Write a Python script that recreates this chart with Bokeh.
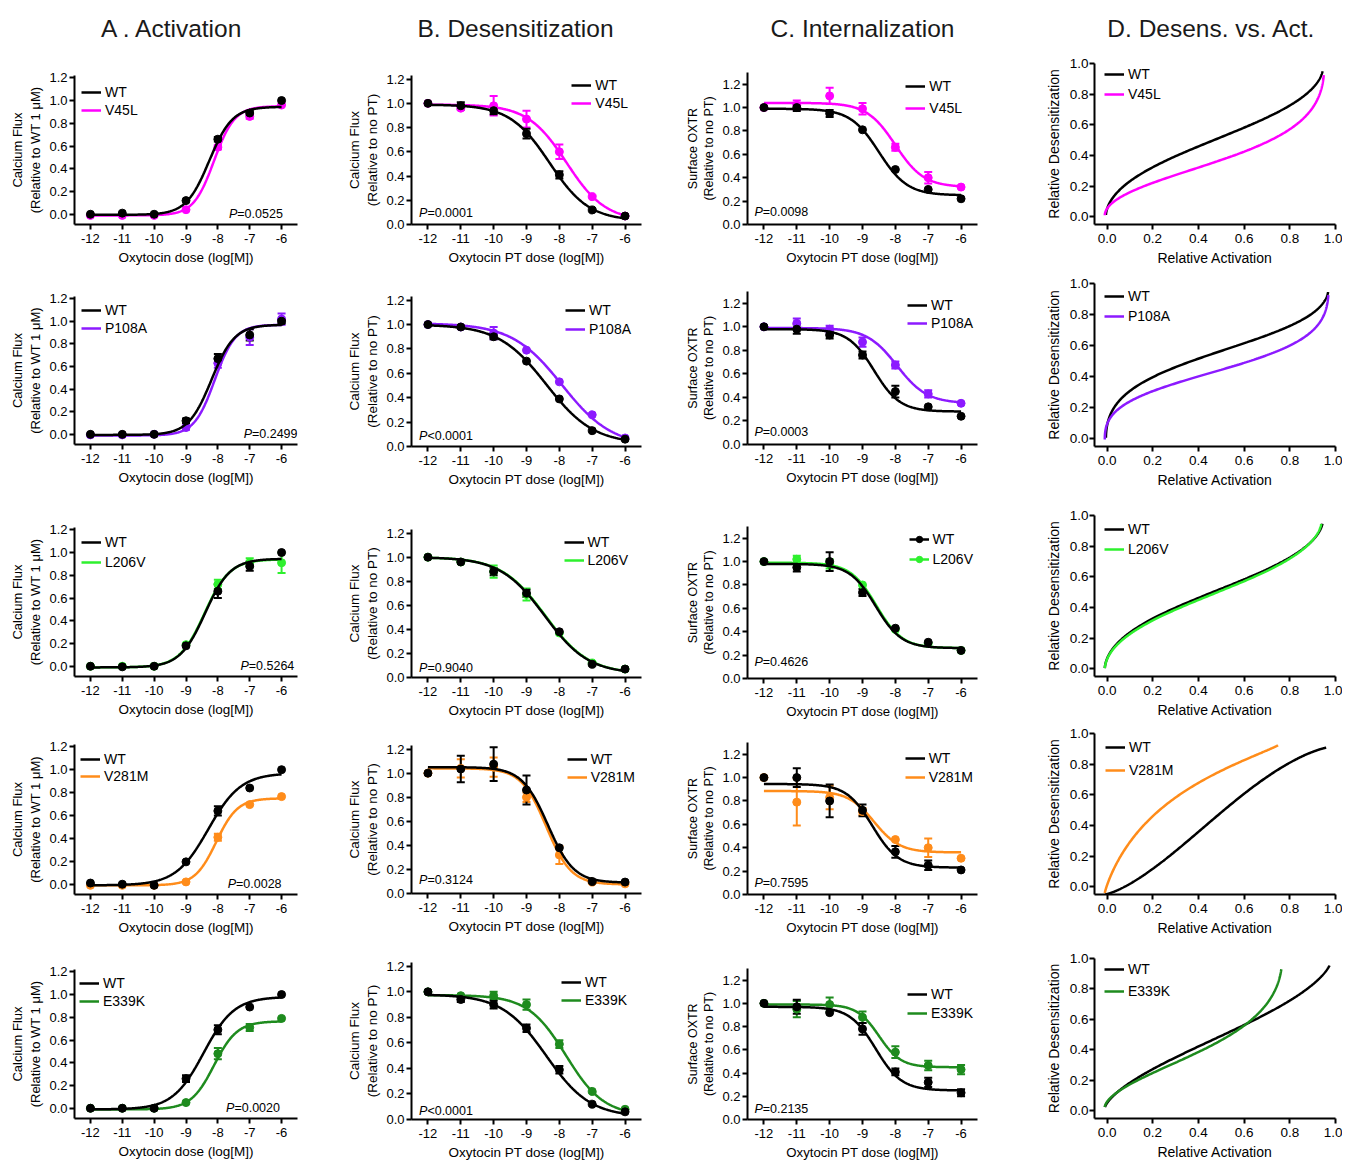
import numpy as np
from bokeh.plotting import figure
from bokeh.models import (Range1d, FixedTicker, PrintfTickFormatter, Legend, LegendItem,
                          Label, Whisker, TeeHead, ColumnDataSource)
from bokeh.layouts import column, row
from bokeh.embed import file_html
from bokeh.resources import INLINE

FONT = "Liberation Sans"

# ---------------------------------------------------------------- data
doses = [-12, -11, -10, -9, -8, -7, -6]
mutants = ["V45L", "P108A", "L206V", "V281M", "E339K"]
mutant_colors = ["#FF00FF", "#8C1AFF", "#2EF02E", "#FF8C1A", "#1E8B1E"]
wt_color = "#000000"
column_titles = ["A . Activation", "B. Desensitization", "C. Internalization", "D. Desens. vs. Act."]
flux_ticks = [0.0, 0.2, 0.4, 0.6, 0.8, 1.0, 1.2]
rel_ticks = [0.0, 0.2, 0.4, 0.6, 0.8, 1.0]

act_p_values = ["=0.0525", "=0.2499", "=0.5264", "=0.0028", "=0.0020"]
des_p_values = ["=0.0001", "<0.0001", "=0.9040", "=0.3124", "<0.0001"]
int_p_values = ["=0.0098", "=0.0003", "=0.4626", "=0.7595", "=0.2135"]

# A. Activation (calcium flux relative to WT 1 uM)
act_wt_mean = [[0.00, 0.01, 0.00, 0.12, 0.66, 0.89, 1.00],
               [0.00, 0.00, 0.00, 0.12, 0.67, 0.88, 1.00],
               [0.00, -0.005, 0.00, 0.18, 0.66, 0.88, 1.00],
               [0.01, 0.00, -0.01, 0.195, 0.64, 0.84, 1.00],
               [0.00, 0.00, 0.00, 0.26, 0.69, 0.89, 1.00]]
act_wt_sem = [[0, 0, 0, 0, 0.02, 0.02, 0],
              [0, 0, 0, 0.02, 0.04, 0.05, 0.02],
              [0, 0, 0, 0, 0.06, 0.04, 0],
              [0, 0, 0, 0, 0.04, 0, 0],
              [0, 0, 0, 0.03, 0.04, 0, 0]]
act_mut_mean = [[-0.01, -0.01, -0.01, 0.04, 0.59, 0.86, 0.96],
                [-0.005, -0.005, 0.00, 0.06, 0.63, 0.86, 1.02],
                [0.00, 0.00, 0.00, 0.19, 0.72, 0.91, 0.91],
                [-0.01, -0.01, -0.01, 0.02, 0.41, 0.695, 0.765],
                [0.00, 0.00, 0.00, 0.05, 0.48, 0.71, 0.79]]
act_mut_sem = [[0, 0, 0, 0, 0.02, 0.02, 0],
               [0, 0, 0, 0.02, 0.04, 0.07, 0.05],
               [0, 0, 0, 0, 0.04, 0.04, 0.09],
               [0, 0, 0, 0, 0.03, 0, 0],
               [0, 0, 0, 0, 0.05, 0.03, 0]]
# fitted curves: bottom, top, logEC50, hill
act_wt_fit = [[-0.005, 0.945, -8.27, 1.2], [-0.005, 0.97, -8.2, 1.2], [-0.01, 0.945, -8.4, 1.1],
              [-0.01, 0.97, -8.3, 0.85], [-0.01, 0.98, -8.45, 0.9]]
act_mut_fit = [[-0.01, 0.95, -8.12, 1.35], [-0.01, 0.97, -8.1, 1.35], [-0.01, 0.94, -8.42, 1.1],
               [-0.01, 0.75, -8.05, 1.3], [-0.01, 0.765, -8.12, 1.2]]

# B. Desensitization (calcium flux relative to no PT)
des_wt_mean = [[1.00, 0.98, 0.94, 0.75, 0.41, 0.12, 0.07],
               [1.00, 0.98, 0.90, 0.70, 0.39, 0.13, 0.06],
               [1.00, 0.96, 0.88, 0.70, 0.38, 0.11, 0.07],
               [1.00, 1.035, 1.075, 0.86, 0.38, 0.10, 0.095],
               [1.00, 0.94, 0.90, 0.715, 0.39, 0.12, 0.06]]
des_wt_sem = [[0, 0.03, 0.03, 0.04, 0.03, 0, 0],
              [0, 0.01, 0.02, 0, 0, 0, 0],
              [0, 0, 0.03, 0.03, 0, 0, 0],
              [0, 0.11, 0.14, 0.12, 0, 0, 0],
              [0, 0.02, 0.03, 0.03, 0.03, 0, 0]]
des_mut_mean = [[1.00, 0.96, 0.98, 0.87, 0.60, 0.23, 0.07],
                [1.00, 0.98, 0.93, 0.79, 0.53, 0.26, 0.07],
                [1.00, 0.96, 0.88, 0.69, 0.37, 0.12, 0.07],
                [1.00, 1.04, 1.05, 0.80, 0.32, 0.095, 0.08],
                [1.00, 0.97, 0.97, 0.90, 0.59, 0.22, 0.08]]
des_mut_sem = [[0, 0, 0.08, 0.07, 0.06, 0, 0],
               [0, 0, 0.05, 0, 0, 0, 0],
               [0, 0, 0.05, 0.05, 0, 0, 0],
               [0, 0.075, 0.08, 0.04, 0.075, 0, 0],
               [0, 0, 0.03, 0.04, 0.03, 0, 0]]
des_wt_fit = [[0.03, 0.99, -8.3, 0.72], [0.02, 1.0, -8.4, 0.6], [0.03, 1.0, -8.45, 0.65],
              [0.09, 1.05, -8.35, 1.1], [0.02, 0.98, -8.4, 0.65]]
des_mut_fit = [[0.03, 0.99, -7.78, 0.733], [0.0, 1.01, -7.92, 0.57], [0.03, 1.0, -8.43, 0.65],
               [0.075, 1.04, -8.4, 1.15], [0.03, 0.975, -7.8, 0.75]]

# C. Internalization (surface OXTR relative to no PT)
int_wt_mean = [[1.00, 1.00, 0.95, 0.81, 0.47, 0.30, 0.22],
               [1.00, 0.98, 0.93, 0.76, 0.45, 0.32, 0.24],
               [1.00, 0.95, 1.00, 0.735, 0.43, 0.31, 0.24],
               [1.00, 1.00, 0.80, 0.72, 0.365, 0.25, 0.21],
               [1.00, 0.97, 0.92, 0.78, 0.41, 0.32, 0.23]]
int_wt_sem = [[0, 0.03, 0.03, 0, 0, 0, 0],
              [0, 0.04, 0.03, 0.03, 0.05, 0, 0],
              [0, 0.035, 0.08, 0.03, 0, 0, 0],
              [0, 0.08, 0.14, 0.05, 0.05, 0.04, 0],
              [0, 0.06, 0, 0.05, 0.03, 0.04, 0.03]]
int_mut_mean = [[1.00, 1.02, 1.10, 0.99, 0.66, 0.40, 0.32],
                [1.00, 1.03, 0.98, 0.87, 0.675, 0.43, 0.35],
                [1.00, 1.02, 0.98, 0.80, 0.42, 0.30, 0.24],
                [1.00, 0.79, 0.83, 0.71, 0.47, 0.40, 0.31],
                [1.00, 0.95, 0.99, 0.88, 0.58, 0.465, 0.43]]
int_mut_sem = [[0, 0.04, 0.07, 0.05, 0.03, 0.05, 0],
               [0, 0.04, 0.03, 0.04, 0.03, 0.03, 0],
               [0, 0.03, 0.04, 0, 0, 0, 0],
               [0, 0.2, 0.1, 0.03, 0, 0.08, 0],
               [0, 0.07, 0.06, 0.05, 0.05, 0.04, 0.04]]
int_wt_fit = [[0.25, 0.99, -8.5, 1.0], [0.28, 0.98, -8.65, 1.1], [0.26, 0.98, -8.6, 1.1],
              [0.23, 0.945, -8.7, 1.1], [0.25, 0.97, -8.6, 1.1]]
int_mut_fit = [[0.32, 1.04, -8.0, 1.0], [0.35, 0.99, -7.95, 0.95], [0.26, 0.99, -8.58, 1.1],
               [0.36, 0.885, -8.65, 1.1], [0.45, 0.99, -8.5, 1.3]]


def rising(params, x):
    b, t, ec, h = params
    return b + (t - b) / (1.0 + 10.0 ** ((ec - x) * h))


def falling(params, x):
    b, t, ic, h = params
    return b + (t - b) / (1.0 + 10.0 ** ((x - ic) * h))


# ---------------------------------------------------------------- layout (page pixels)
COL_X = [(0, 340), (340, 680), (680, 1020), (1020, 1342)]
FRAME_X = [(74, 297), (411, 641), (747, 977), (1094, 1335)]
# frame (top, bottom) per row, per column
FRAME_Y = [
    [(75, 224), (296, 444), (527, 676), (744, 894), (969, 1118.5)],
    [(75, 224), (296, 446), (529, 677), (745, 893), (962, 1120)],
    [(72, 224), (291.5, 444.3), (525.6, 677.7), (742, 894), (967.5, 1120.7)],
    [(63, 224), (283, 446), (515, 676), (733, 894), (958, 1119)],
]
HEADER_H = 45
PAGE_END = 1162
TITLE_X = [172, 515, 862, 1211]
TITLE_Y = 28
BOTTOM_NEED = 44
TOP_NEED = 10
X_RANGES = [(-12.5, -5.5), (-12.5, -5.5), (-12.5, -5.5), (-0.055, 1.0)]
Y_RANGES = [(-0.09, 1.22), (0.0, 1.23), (0.0, 1.3), (-0.05, 1.0)]
LEGENDS = [
    [("L", 7, 17, 17.7), ("R", 13, 10, 18.3), ("R", 15, 14, 22), ("L", 10, 11, 20.3)],
    [("L", 7, 13.6, 18.3), ("R", 10, 14.4, 19.3), ("R", 4, 13.5, 18.3), ("L", 10, 13, 20)],
    [("L", 7, 15, 20), ("R", 13, 12.7, 18.3), ("R", 4, 12.7, 20), ("L", 10, 14, 20)],
    [("L", 6, 14.6, 17.4), ("R", 6, 13.6, 18.3), ("R", 4, 16, 19.3), ("L", 11, 13.7, 22.6)],
    [("L", 5, 14, 17.7), ("R", 14, 21, 18.3), ("R", 4, 27.5, 19.3), ("L", 10, 12, 22)],
]
P_POS = [
    [(-5.96, 0.0), (-5.5, 0.0), (-5.6, 0.0), (-6.0, 0.0), (-6.05, 0.0)],
    [(-12.27, 0.096), (-12.27, 0.09), (-12.27, 0.078), (-12.27, 0.11), (-12.27, 0.064)],
    [(-12.29, 0.105), (-12.29, 0.107), (-12.29, 0.137), (-12.29, 0.10), (-12.29, 0.09)],
]
Y_LABELS = ["Calcium Flux\n(Relative to WT 1 \u03bcM)", "Calcium Flux\n(Relative to no PT)",
            "Surface OXTR\n(Relative to no PT)", "Relative Desensitization"]
X_LABELS = ["Oxytocin dose (log[M])", "Oxytocin PT dose (log[M])", "Oxytocin PT dose (log[M])",
            "Relative Activation"]
Y_LABEL_SIZE = ["13px", "13.5px", "12.5px", "14px"]
X_LABEL_SIZE = ["13.5px", "13.5px", "13.2px", "14px"]
TICK_SIZE = ["13px", "13px", "13px", "13.5px"]

ARIAL = {"W": 944, "T": 611, "V": 667, "L": 556, "P": 667, "A": 667, "M": 833, "E": 667,
         "K": 667, "=": 584, "<": 584, ".": 278}


def text_w(s, size):
    return sum(ARIAL.get(ch, 556) for ch in s) * size / 1000.0


LEG_FONT = 14


def style(p, c):
    for ax in (p.xaxis[0], p.yaxis[0]):
        ax.axis_line_width = 2
        ax.axis_line_color = "black"
        ax.major_tick_line_width = 2
        ax.major_tick_line_color = "black"
        ax.major_tick_out = 5
        ax.major_tick_in = 0
        ax.minor_tick_line_color = None
        ax.major_label_text_font = FONT
        ax.major_label_text_font_size = TICK_SIZE[c]
        ax.major_label_text_color = "black"
        ax.axis_label_text_font = FONT
        ax.axis_label_text_font_style = "normal"
        ax.axis_label_text_color = "black"
    xa, ya = p.xaxis[0], p.yaxis[0]
    xa.axis_label = X_LABELS[c]
    xa.axis_label_text_font_size = X_LABEL_SIZE[c]
    xa.major_label_standoff = 4
    xa.axis_label_standoff = 4
    ya.axis_label = Y_LABELS[c]
    ya.axis_label_text_font_size = Y_LABEL_SIZE[c]
    ya.axis_label_text_line_height = 1.2
    ya.major_label_standoff = 2
    ya.axis_label_standoff = 3
    if c < 3:
        xa.ticker = FixedTicker(ticks=doses)
        ya.ticker = FixedTicker(ticks=flux_ticks)
        xa.formatter = PrintfTickFormatter(format="%d")
    else:
        xa.ticker = FixedTicker(ticks=rel_ticks)
        ya.ticker = FixedTicker(ticks=rel_ticks)
        xa.formatter = PrintfTickFormatter(format="%.1f")
        ya.major_label_standoff = 1
        ya.axis_label_standoff = 5
    ya.formatter = PrintfTickFormatter(format="%.1f")
    p.xgrid.visible = False
    p.ygrid.visible = False
    p.outline_line_color = None


def cell_bounds(c):
    ys = [0, HEADER_H]
    fy = FRAME_Y[c]
    for r in range(4):
        lo = fy[r][1] + BOTTOM_NEED
        hi = fy[r + 1][0] - TOP_NEED
        ys.append(int(round((lo + hi) / 2.0)))
    ys.append(PAGE_END)
    return ys


def make_fig(r, c, cy0, cy1):
    cx0, cx1 = COL_X[c]
    fl, fr = FRAME_X[c]
    ft, fb = FRAME_Y[c][r]
    bt = int(round(ft - cy0))
    bb = int(round(cy1 - fb))
    p = figure(width=cx1 - cx0, height=cy1 - cy0, output_backend="svg", toolbar_location=None,
               title=None,
               min_border_left=int(round(fl - cx0)), min_border_right=int(round(cx1 - fr)),
               min_border_top=bt, min_border_bottom=bb,
               x_range=Range1d(*X_RANGES[c]), y_range=Range1d(*Y_RANGES[c]))
    p.background_fill_color = "white"
    p.border_fill_color = "white"
    style(p, c)
    return p, fr - fl, (cy1 - cy0) - bt - bb


def add_legend(p, r, c, items, labels, fw, fh):
    side, dx, dy, sp = LEGENDS[r][c]
    h = 16
    spacing = max(0, int(round(sp - h)))
    gw, so = 20, 4
    lh = 2 * h + spacing
    vy = fh - (dy - h / 2.0) - lh
    if side == "L":
        vx = dx
    else:
        lw = gw + so + max(text_w(l, LEG_FONT) for l in labels)
        vx = fw - dx - lw
    leg = Legend(items=items, location=(float(vx), float(vy)), orientation="vertical",
                 padding=0, margin=0, spacing=spacing, glyph_width=gw, glyph_height=h,
                 label_height=h, label_standoff=so, border_line_color=None,
                 background_fill_alpha=0, label_text_font=FONT,
                 label_text_font_size=f"{LEG_FONT}px", label_text_color="black")
    p.add_layout(leg)


def add_series(p, means, sems, params, color, falling_curve):
    xs = np.linspace(-12, -6, 300)
    ys = falling(params, xs) if falling_curve else rising(params, xs)
    ln = p.line(xs, ys, line_color=color, line_width=2.5)
    ex = [d for d, s in zip(doses, sems) if s > 0]
    em = [m for m, s in zip(means, sems) if s > 0]
    es = [s for s in sems if s > 0]
    if ex:
        src = ColumnDataSource(dict(x=ex, upper=[m + s for m, s in zip(em, es)],
                                    lower=[m - s for m, s in zip(em, es)]))
        w = Whisker(source=src, base="x", upper="upper", lower="lower",
                    line_color=color, line_width=2,
                    upper_head=TeeHead(size=8, line_color=color, line_width=2),
                    lower_head=TeeHead(size=8, line_color=color, line_width=2))
        p.add_layout(w)
    sc = p.scatter(doses, means, size=8, fill_color=color, line_color=color)
    return ln, sc


def add_p(p, r, c, text):
    x, y = P_POS[c][r]
    size = 12.5
    common = dict(x=x, y=y, text_font=FONT, text_font_size=f"{size}px",
                  text_baseline="middle", text_color="black")
    if c == 0:
        p.add_layout(Label(text=text, text_align="right", **common))
        p.add_layout(Label(text="P", text_align="right", text_font_style="italic",
                           x_offset=-text_w(text, size), **common))
    else:
        p.add_layout(Label(text="P", text_align="left", text_font_style="italic", **common))
        p.add_layout(Label(text=text, text_align="left", x_offset=text_w("P", size), **common))


datasets = [
    (act_wt_mean, act_wt_sem, act_wt_fit, act_mut_mean, act_mut_sem, act_mut_fit, False, act_p_values),
    (des_wt_mean, des_wt_sem, des_wt_fit, des_mut_mean, des_mut_sem, des_mut_fit, True, des_p_values),
    (int_wt_mean, int_wt_sem, int_wt_fit, int_mut_mean, int_mut_sem, int_mut_fit, True, int_p_values),
]

columns = []
for c in range(4):
    cx0, cx1 = COL_X[c]
    fl, fr = FRAME_X[c]
    bounds = cell_bounds(c)
    # header: its frame is aligned with the panels' frames below it
    header = figure(width=cx1 - cx0, height=HEADER_H, output_backend="svg", toolbar_location=None,
                    title=None, x_range=Range1d(fl, fr), y_range=Range1d(0, HEADER_H),
                    x_axis_type=None, y_axis_type=None, min_border=0,
                    min_border_left=int(round(fl - cx0)), min_border_right=int(round(cx1 - fr)))
    header.outline_line_color = None
    header.xgrid.visible = False
    header.ygrid.visible = False
    header.add_layout(Label(x=TITLE_X[c], y=HEADER_H - TITLE_Y, text=column_titles[c],
                            text_font=FONT, text_font_size="24.5px", text_align="center",
                            text_baseline="middle", text_color="#1a1a1a"))
    figs = [header]
    for r in range(5):
        color = mutant_colors[r]
        name = mutants[r]
        p, fw, fh = make_fig(r, c, bounds[r + 1], bounds[r + 2])
        if c < 3:
            wm, ws, wf, mm, ms, mf, fall, pv = datasets[c]
            ml, msc = add_series(p, mm[r], ms[r], mf[r], color, fall)
            wl, wsc = add_series(p, wm[r], ws[r], wf[r], wt_color, fall)
            with_markers = (r == 2 and c == 2)
            items = [LegendItem(label="WT", renderers=[wl, wsc] if with_markers else [wl]),
                     LegendItem(label=name, renderers=[ml, msc] if with_markers else [ml])]
            add_p(p, r, c, pv[r])
        else:
            # desensitization vs activation, from the activation and desensitization fits
            dgrid = np.linspace(-12, -6, 400)
            wl = p.line(rising(act_wt_fit[r], dgrid), 1 - falling(des_wt_fit[r], dgrid),
                        line_color=wt_color, line_width=2.5)
            ml = p.line(rising(act_mut_fit[r], dgrid), 1 - falling(des_mut_fit[r], dgrid),
                        line_color=color, line_width=2.5)
            items = [LegendItem(label="WT", renderers=[wl]), LegendItem(label=name, renderers=[ml])]
        add_legend(p, r, c, items, ["WT", name], fw, fh)
        figs.append(p)
    columns.append(column(*figs, spacing=0))

layout = row(*columns, spacing=0)
open("out.html", "w", encoding="utf-8").write(file_html(layout, INLINE))
